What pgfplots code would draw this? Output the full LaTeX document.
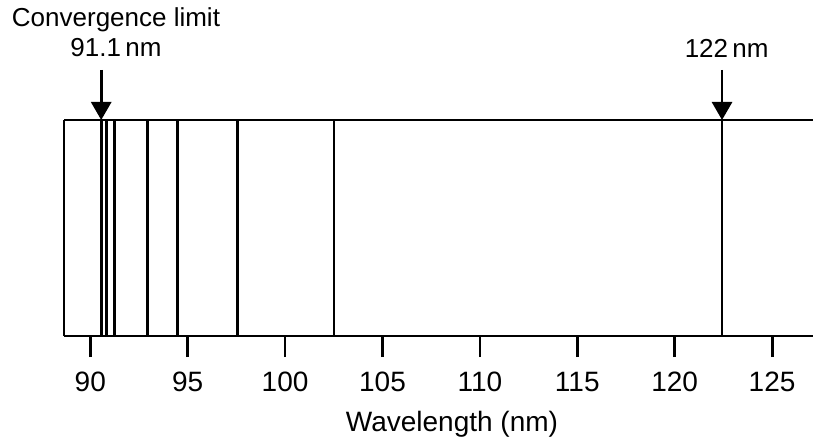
\documentclass[border=0pt]{standalone}
\usepackage{fontspec}
\setmainfont{Liberation Sans}
\usepackage{pgfplots}
\pgfplotsset{compat=1.18}
\usetikzlibrary{arrows.meta}
\begin{document}
\begin{tikzpicture}
\fontsize{13bp}{14bp}\selectfont
\useasboundingbox (-32bp,-53bp) rectangle (374.5bp,168bp);
\begin{axis}[
  at={(0,0)}, anchor=south west,
  scale only axis, width=374.5bp, height=108bp,
  xmin=88.65, xmax=127.1, ymin=0, ymax=1,
  axis y line=none,
  axis x line*=box,
  clip=false,
  xtick={90,95,100,105,110,115,120,125},
  ytick=\empty,
  tick pos=left,
  tick align=outside,
  major tick length=10.5bp,
  every tick/.style={black, line width=1.4bp},
  axis line style={black, line width=1.4bp},
  /pgf/number format/assume math mode=true,
  ticklabel style={font=\fontsize{14bp}{16bp}\selectfont},
  xticklabel style={yshift=-3bp},
  xlabel={Wavelength (nm)},
  xlabel style={font=\fontsize{14bp}{16bp}\selectfont, at={(rel axis cs:0.518,0)}, anchor=center, yshift=-44bp},
]
\addplot[ycomb, black, line width=1.4bp, mark=none] coordinates {
  (90.56,1) (90.84,1) (91.25,1) (92.93,1) (94.47,1) (97.55,1) (102.51,1) (122.43,1)
};
\draw[black, line width=1.4bp] (rel axis cs:0,0) -- (rel axis cs:0,1);
\draw[black, line width=1.4bp] (rel axis cs:0,1) -- (rel axis cs:1,1);
\draw[black, line width=1.4bp, -{Triangle[width=10bp,length=9bp]}] ([yshift=25bp]axis cs:90.56,1) -- (axis cs:90.56,1);
\draw[black, line width=1.4bp, -{Triangle[width=10bp,length=9bp]}] ([yshift=25bp]axis cs:122.43,1) -- (axis cs:122.43,1);
\end{axis}
\node[align=center, inner sep=0pt] at (26bp,158bp) {Convergence limit};
\node[align=center, inner sep=0pt] at (26bp,144bp) {91.1\,nm};
\node[align=center, inner sep=0pt] at (331.35bp,144bp) {122\,nm};
\end{tikzpicture}
\end{document}
